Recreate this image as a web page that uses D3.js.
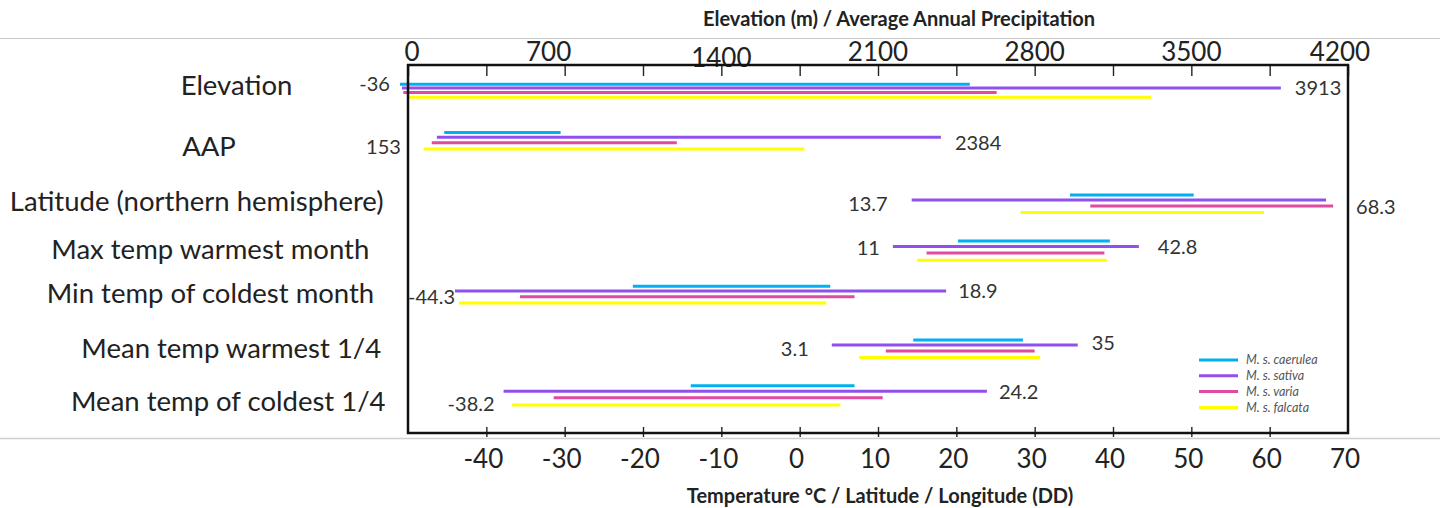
<!DOCTYPE html>
<html>
<head>
<meta charset="utf-8">
<script src="https://cdn.jsdelivr.net/npm/d3@7"></script>
<style>
  body { margin: 0; background: #fff; }
  text { font-family: Lato, "Open Sans", sans-serif; fill: #222; }
</style>
</head>
<body>
<div id="chart"></div>
<script>
// rows and series
var categories = ["Elevation", "AAP", "Latitude (northern hemisphere)", "Max temp warmest month",
  "Min temp of coldest month", "Mean temp warmest 1/4", "Mean temp of coldest 1/4"];
var rowAxis = ["top", "top", "bottom", "bottom", "bottom", "bottom", "bottom"];
var species = ["M. s. caerulea", "M. s. sativa", "M. s. varia", "M. s. falcata"];

// [min, max] per row
var caerulea = [[-36, 2510], [162, 682], [34.5, 50.3], [20.2, 39.6], [-21.3, 3.9], [14.5, 28.5], [-13.9, 7.0]];
var sativa   = [[-27, 3900], [129, 2381], [14.3, 67.2], [11.9, 43.3], [-44.0, 18.7], [4.1, 35.5], [-37.8, 23.9]];
var varia    = [[-21, 2630], [106, 1201], [37.1, 68.1], [16.2, 38.9], [-35.7, 7.0], [11.0, 30.0], [-31.4, 10.6]];
var falcata  = [[-3, 3320], [71, 1771], [28.2, 59.3], [15.0, 39.2], [-43.5, 3.4], [7.6, 30.7], [-36.7, 5.2]];

var minLabels = ["-36", "153", "13.7", "11", "-44.3", "3.1", "-38.2"];
var maxLabels = ["3913", "2384", "68.3", "42.8", "18.9", "35", "24.2"];

var topTicks = d3.range(0, 4201, 350);
var topLabels = d3.range(0, 4201, 700);
var bottomTicks = d3.range(-40, 61, 10);
var bottomLabels = d3.range(-40, 71, 10);

var colors = ["#00B0F0", "#9150EE", "#E04AA0", "#FFFF00"];

// layout
var W = 1445, H = 508;
var box = {x0: 408, x1: 1348, y0: 65, y1: 433};
var rowY = [84.3, 132.4, 195, 241, 286.3, 340, 385.7];
var rowSpread = [0.74, 0.95, 1, 1.1, 0.95, 1, 1.1];
var lineOff = [0, 5, 11, 17.5];
var labelX = [236.5, 209, 196.7, 210.3, 210.5, 231.3, 228.3];
var labelY = [85, 146, 201.7, 249, 293.3, 348.3, 401.7];
var topLabDx = {0: 4, 700: -16, 4200: -8};
var minGap = [10, 23, 24, 13, 0, 23, 9], minY = [84.3, 147, 204, 248, 297, 349, 404];
var maxGap = [14, 14, 23, 19, 12, 14, 12], maxY = [88, 143, 207, 247, 291, 343, 392];

var svg = d3.select("#chart").append("svg").attr("width", W).attr("height", H);

var xTop = d3.scaleLinear().domain([0, 4200]).range([box.x0, box.x1]);
var xBot = d3.scaleLinear().domain([-50, 70]).range([box.x0, box.x1]);
var yRow = d3.scaleOrdinal().domain(categories).range(rowY);
var spread = d3.scaleOrdinal().domain(categories).range(rowSpread);
var ySer = d3.scaleOrdinal().domain(species).range(lineOff);
var color = d3.scaleOrdinal().domain(species).range(colors);

// grey rules
svg.append("line").attr("x1", 0).attr("x2", W - 5).attr("y1", 38.5).attr("y2", 38.5).attr("stroke", "#c8c8c8");
svg.append("line").attr("x1", 0).attr("x2", W - 5).attr("y1", 438.5).attr("y2", 438.5).attr("stroke", "#d0d0d0").attr("stroke-width", 1.5);

// titles
svg.append("text").attr("x", 899).attr("y", 26).attr("text-anchor", "middle")
  .style("font-size", "20px").style("font-weight", "bold").text("Elevation (m) / Average Annual Precipitation");
svg.append("text").attr("x", 880).attr("y", 503).attr("text-anchor", "middle")
  .style("font-size", "20px").style("font-weight", "bold").text("Temperature \u00B0C / Latitude / Longitude (DD)");

// top axis
var topAxis = d3.axisTop(xTop).tickValues(topTicks).tickSize(-11).tickFormat("");
var gTop = svg.append("g").attr("transform", "translate(0," + box.y0 + ")").call(topAxis);
gTop.select(".domain").remove();
gTop.selectAll(".tick line").attr("stroke", "#222").attr("stroke-width", 1.4);
svg.selectAll(".toplab").data(topLabels).enter().append("text")
  .attr("class", "toplab")
  .attr("x", function(d) { return xTop(d) + (topLabDx[d] || 0); })
  .attr("y", function(d) { return d === 1400 ? 67 : 61; })
  .attr("text-anchor", "middle")
  .style("font-size", "26px")
  .text(function(d) { return d; });

// bottom axis
var botAxis = d3.axisBottom(xBot).tickValues(bottomTicks).tickSize(10).tickFormat("");
var gBot = svg.append("g").attr("transform", "translate(0," + (box.y1 - 6) + ")").call(botAxis);
gBot.select(".domain").remove();
gBot.selectAll(".tick line").attr("stroke", "#222").attr("stroke-width", 1.4);
svg.selectAll(".botlab").data(bottomLabels).enter().append("text")
  .attr("class", "botlab")
  .attr("x", function(d) { return xBot(d) - 3; })
  .attr("y", 468)
  .attr("text-anchor", "middle")
  .style("font-size", "26px")
  .text(function(d) { return d; });

// row labels
svg.selectAll(".rowlab").data(categories).enter().append("text")
  .attr("class", "rowlab")
  .attr("x", function(d, i) { return labelX[i]; })
  .attr("y", function(d, i) { return labelY[i]; })
  .attr("dy", "0.35em")
  .attr("text-anchor", "middle")
  .style("font-size", "27.5px")
  .text(function(d) { return d; });

// range lines
var series = [caerulea, sativa, varia, falcata];
var segs = [];
series.forEach(function(s, k) {
  s.forEach(function(r, i) {
    segs.push({cat: categories[i], sp: species[k], lo: r[0], hi: r[1], axis: rowAxis[i]});
  });
});
function xs(d, v) { return d.axis === "top" ? xTop(v) : xBot(v); }
function ys(d) { return yRow(d.cat) + ySer(d.sp) * spread(d.cat); }

svg.append("g").selectAll("line").data(segs).enter().append("line")
  .attr("x1", function(d) { return xs(d, d.lo); })
  .attr("x2", function(d) { return xs(d, d.hi); })
  .attr("y1", ys)
  .attr("y2", ys)
  .attr("stroke", function(d) { return color(d.sp); })
  .attr("stroke-width", 3);

// min / max annotations
categories.forEach(function(c, i) {
  var lo = d3.min(series, function(s) { return s[i][0]; });
  var hi = d3.max(series, function(s) { return s[i][1]; });
  var sc = rowAxis[i] === "top" ? xTop : xBot;
  svg.append("text").attr("x", sc(lo) - minGap[i]).attr("y", minY[i]).attr("dy", "0.35em")
    .attr("text-anchor", "end").style("font-size", "20px").style("fill", "#333").text(minLabels[i]);
  svg.append("text").attr("x", sc(hi) + maxGap[i]).attr("y", maxY[i]).attr("dy", "0.35em")
    .attr("text-anchor", "start").style("font-size", "20px").style("fill", "#333").text(maxLabels[i]);
});

// box
svg.append("rect").attr("x", box.x0).attr("y", box.y0)
  .attr("width", box.x1 - box.x0).attr("height", box.y1 - box.y0)
  .attr("fill", "none").attr("stroke", "#111").attr("stroke-width", 2.5);

// legend
var leg = svg.append("g").attr("transform", "translate(1199,360)");
var li = leg.selectAll("g").data(species).enter().append("g")
  .attr("transform", function(d, i) { return "translate(0," + (i * 15.8) + ")"; });
li.append("line").attr("x1", 0).attr("x2", 39).attr("stroke", function(d) { return color(d); }).attr("stroke-width", 3);
li.append("text").attr("x", 47).attr("dy", "0.35em")
  .style("font-size", "12.5px").style("font-style", "italic").style("fill", "#555")
  .text(function(d) { return d; });
</script>
</body>
</html>
